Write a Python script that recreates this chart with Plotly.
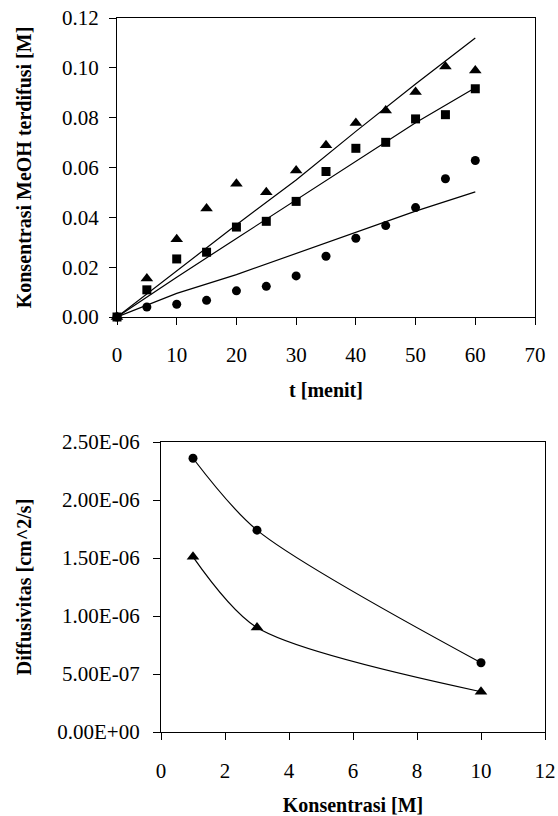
import plotly.graph_objects as go

# --- top chart: diffused MeOH concentration vs time ---
t_menit = [0, 5, 10, 15, 20, 25, 30, 35, 40, 45, 50, 55, 60]
conc_tri = [0.0, 0.0155, 0.0312, 0.0435, 0.0535, 0.0501, 0.0588, 0.0689, 0.0779, 0.0829, 0.0903, 0.1005, 0.0989]
conc_sq = [0.0, 0.0109, 0.0233, 0.0260, 0.0361, 0.0384, 0.0464, 0.0584, 0.0677, 0.0701, 0.0795, 0.0812, 0.0916]
conc_circ = [0.0, 0.0040, 0.0051, 0.0067, 0.0105, 0.0123, 0.0165, 0.0244, 0.0316, 0.0367, 0.0439, 0.0555, 0.0628]

# model lines
t_model = [0, 10, 20, 30, 40, 50, 60]
model_tri = [0.0, 0.0185, 0.0370, 0.0550, 0.0745, 0.0935, 0.1120]
model_sq = [0.0, 0.0160, 0.0315, 0.0470, 0.0625, 0.0780, 0.0920]
model_circ = [0.0, 0.0095, 0.0170, 0.0255, 0.0340, 0.0425, 0.0502]

y_ticks_top = [0.0, 0.02, 0.04, 0.06, 0.08, 0.10, 0.12]

# --- bottom chart: diffusivity vs concentration ---
konsentrasi = [1, 3, 10]
diff_circ = [2.36e-6, 1.74e-6, 5.97e-7]
diff_tri = [1.51e-6, 9.0e-7, 3.47e-7]

y_ticks_bot = [0.0, 5e-7, 1e-6, 1.5e-6, 2e-6, 2.5e-6]
y_labels_bot = ["0.00E+00", "5.00E-07", "1.00E-06", "1.50E-06", "2.00E-06", "2.50E-06"]

W, H = 558, 816
FONT = "Liberation Serif, Times New Roman, serif"

fig = go.Figure()

# top chart markers
for ys, sym, sz in [(conc_tri, "triangle-up", 11), (conc_sq, "square", 9), (conc_circ, "circle", 9)]:
    fig.add_trace(go.Scatter(x=t_menit, y=ys, mode="markers", cliponaxis=False,
                             marker=dict(symbol=sym, size=sz, color="black"),
                             xaxis="x", yaxis="y", showlegend=False))
# top chart lines
for ys in [model_tri, model_sq, model_circ]:
    fig.add_trace(go.Scatter(x=t_model, y=ys, mode="lines",
                             line=dict(color="black", width=1.2),
                             xaxis="x", yaxis="y", showlegend=False))

# bottom chart
fig.add_trace(go.Scatter(x=konsentrasi, y=diff_circ, mode="lines+markers", cliponaxis=False,
                         line=dict(color="black", width=1.2, shape="spline", smoothing=0.8),
                         marker=dict(symbol="circle", size=9, color="black"),
                         xaxis="x2", yaxis="y2", showlegend=False))
fig.add_trace(go.Scatter(x=konsentrasi, y=diff_tri, mode="lines+markers", cliponaxis=False,
                         line=dict(color="black", width=1.2, shape="spline", smoothing=0.8),
                         marker=dict(symbol="triangle-up", size=11, color="black"),
                         xaxis="x2", yaxis="y2", showlegend=False))

axis_common = dict(showline=True, linecolor="black", linewidth=1.2, mirror=True,
                   ticks="outside", ticklen=7, tickcolor="black", tickwidth=1,
                   showgrid=False, zeroline=False, automargin=False,
                   tickfont=dict(family=FONT, size=21, color="black"))
title_font = dict(family=FONT, size=20, color="black")

fig.update_layout(
    width=W, height=H,
    margin=dict(l=0, r=0, t=0, b=0, autoexpand=False),
    paper_bgcolor="white", plot_bgcolor="white",
    xaxis=dict(axis_common, domain=[117 / W, 535 / W], range=[0, 70], dtick=10,
               anchor="y", ticklabelstandoff=12,
               title=dict(text="<b>t [menit]</b>", font=title_font, standoff=16)),
    yaxis=dict(axis_common, domain=[1 - 317 / H, 1 - 18 / H], range=[0, 0.12],
               tickvals=y_ticks_top, tickformat=".2f", anchor="x", ticklabelstandoff=6,
               title=dict(text="<b>Konsentrasi MeOH terdifusi [M]</b>", font=title_font, standoff=24)),
    xaxis2=dict(axis_common, domain=[161 / W, 545 / W], range=[0, 12], dtick=2,
                anchor="y2", ticklabelstandoff=13,
                title=dict(text="<b>Konsentrasi [M]</b>", font=title_font, standoff=18)),
    yaxis2=dict(axis_common, domain=[1 - 732 / H, 1 - 442 / H], range=[0, 2.5e-6],
                tickvals=y_ticks_bot, ticktext=y_labels_bot, anchor="x2", ticklabelstandoff=9,
                title=dict(text="<b>Diffusivitas [cm^2/s]</b>", font=title_font, standoff=20)),
)

# drop the browser's default page margin so the figure sits at the top-left corner
fig.write_html("out.html", config={"displayModeBar": False},
               post_script="document.body.style.margin='0';")
